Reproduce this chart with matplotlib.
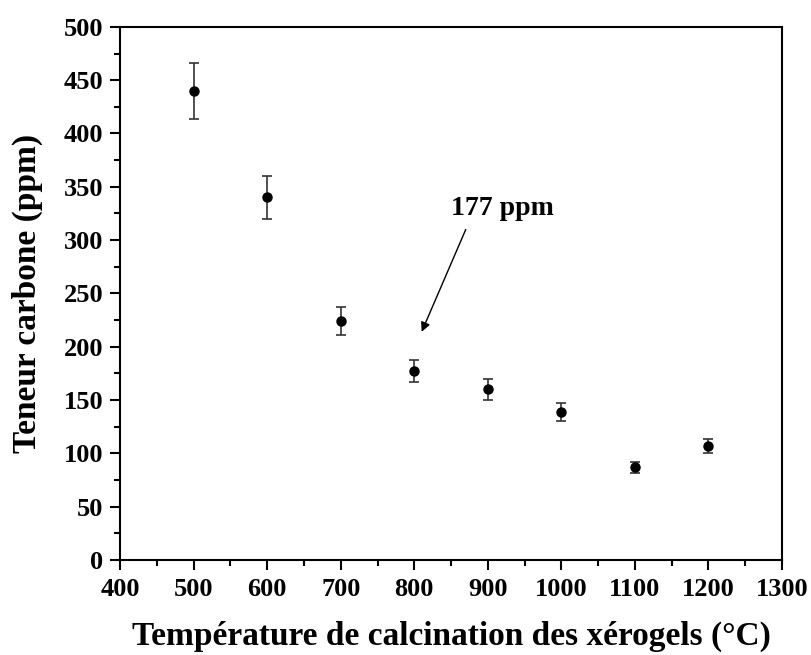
import matplotlib
matplotlib.use('Agg')
import matplotlib.pyplot as plt
from matplotlib.ticker import MultipleLocator

plt.rcParams['font.family'] = ['Liberation Serif', 'DejaVu Serif']
plt.rcParams['font.weight'] = 'bold'

# Données
temperature = [500, 600, 700, 800, 900, 1000, 1100, 1200]
carbone = [440, 340, 224, 177, 160, 139, 87, 107]
erreur = [26, 20, 13, 10.5, 9.5, 8.5, 5, 6.5]

fig = plt.figure(figsize=(8.12, 6.55), dpi=100)
ax = fig.add_axes([0.148, 0.145, 0.815, 0.814])

ax.errorbar(temperature, carbone, yerr=erreur, fmt='o', color='black',
            ecolor='#333333', markersize=6.5, elinewidth=1.2, capsize=3.8, capthick=1.2)

# flèche + texte
ax.annotate('', xy=(810, 214), xytext=(870, 310),
            arrowprops=dict(arrowstyle='-|>', color='black', lw=1, mutation_scale=14,
                            shrinkA=0, shrinkB=0))
ax.text(920, 330, '177 ppm', ha='center', va='center', fontsize=20, fontweight='bold')

ax.set_xlim(400, 1300)
ax.set_ylim(0, 500)
ax.xaxis.set_major_locator(MultipleLocator(100))
ax.xaxis.set_minor_locator(MultipleLocator(50))
ax.yaxis.set_major_locator(MultipleLocator(50))
ax.yaxis.set_minor_locator(MultipleLocator(25))
ax.tick_params(which='major', direction='out', length=7, width=1.5, labelsize=19, pad=5)
ax.tick_params(axis='x', which='major', pad=6)
ax.tick_params(which='minor', direction='out', length=4, width=1.5)
for s in ax.spines.values():
    s.set_linewidth(1.5)

ax.set_xlabel('Température de calcination des xérogels (°C)', fontsize=24, fontweight='bold', labelpad=14)
ax.set_ylabel('Teneur carbone (ppm)', fontsize=24, fontweight='bold', labelpad=15)

plt.savefig('out.png', dpi=100)
